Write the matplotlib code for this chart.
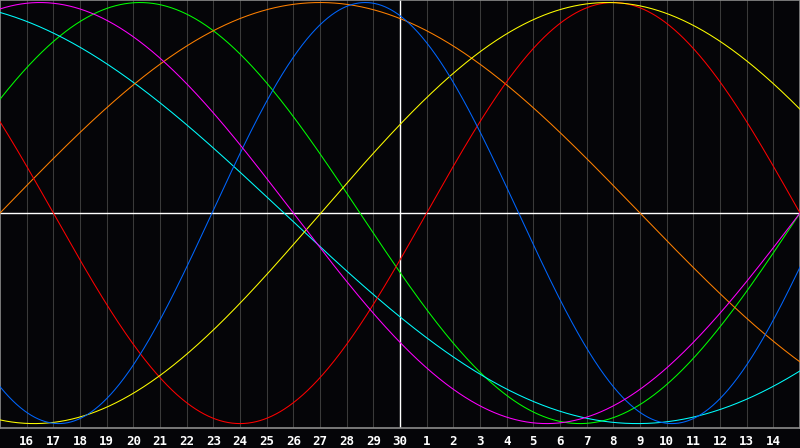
import numpy as np
import matplotlib
matplotlib.use('Agg')
import matplotlib.pyplot as plt

# day labels along the bottom (one per grid line)
day_labels = ['16', '17', '18', '19', '20', '21', '22', '23', '24', '25', '26', '27', '28', '29', '30',
              '1', '2', '3', '4', '5', '6', '7', '8', '9', '10', '11', '12', '13', '14']

# cycles: colour, period in days, position of the peak (in days from the left edge)
colors = ['#00ff00', '#00ffff', '#ff8000', '#ff0000', '#ffff00', '#0066ff', '#ff00ff']
periods = [33, 53, 48, 28, 43, 23, 38]
peak_day = [5.25, -2.6, 12.0, 23.0, 22.78, 13.7, 1.5]

bg = '#050508'
n_days = 30

fig = plt.figure(figsize=(8, 4.48), dpi=100, facecolor=bg)
ax = fig.add_axes([0, 20 / 448, 1, 428 / 448])
ax.set_facecolor(bg)

t = np.linspace(0, n_days, 1200)

# grid
for k in range(1, n_days):
    ax.axvline(k, color='#3a3a3a', lw=0.75, zorder=1)
ax.axvline(15, color='white', lw=1.0, zorder=2)
ax.axhline(0, color='white', lw=1.0, zorder=2)

for c, p, d in zip(colors, periods, peak_day):
    ax.plot(t, np.cos(2 * np.pi * (t - d) / p), color=c, lw=0.75, zorder=3)

ax.set_xlim(0, n_days)
ax.set_ylim(-1.021, 1.012)

ax.set_xticks(range(1, n_days))
ax.set_xticklabels(day_labels)
ax.tick_params(axis='x', length=0, pad=5, colors='white', labelsize=9)
for lab in ax.get_xticklabels():
    lab.set_fontfamily('DejaVu Sans Mono')
    lab.set_fontweight('bold')
ax.set_yticks([])

for s in ax.spines.values():
    s.set_color('#8c8c8c')
    s.set_linewidth(1.2)

fig.savefig('out.png', dpi=100, facecolor=bg)
